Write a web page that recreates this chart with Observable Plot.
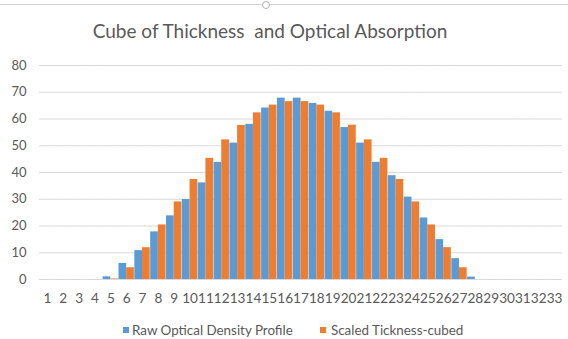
<!DOCTYPE html>
<html><head><meta charset="utf-8">
<script src="https://cdn.jsdelivr.net/npm/d3@7"></script>
<script src="https://cdn.jsdelivr.net/npm/@observablehq/plot@0.6"></script>
<style>
body{margin:0;background:#fff;font-family:Lato,sans-serif;color:#595959}
#wrap{position:relative;width:568px;height:339px;overflow:hidden;background:#fff}
#topline{position:absolute;left:0;top:4px;width:568px;height:0;border-top:1px solid #d4d4d4}
#handle{position:absolute;left:262px;top:1px;width:6px;height:6px;border:1px solid #b0b0b0;border-radius:50%;background:#fff}
#title{position:absolute;left:0;width:540px;top:20px;text-align:center;font-size:19px;line-height:1.2;white-space:pre}
#chart{position:absolute;left:0;top:50px}
.lg{position:absolute;top:321.5px;font-size:13.4px;line-height:1.2;white-space:nowrap}
.sw{position:absolute;top:327px;width:6px;height:6px}
</style>
</head><body>
<div id="wrap">
  <div id="topline"></div>
  <div id="handle"></div>
  <div id="title"></div>
  <div id="chart"></div>
  <div id="legend"></div>
</div>
<script>
const title = "Cube of Thickness  and Optical Absorption";
const categories = [1,2,3,4,5,6,7,8,9,10,11,12,13,14,15,16,17,18,19,20,21,22,23,24,25,26,27,28,29,30,31,32,33];
const seriesNames = ["Raw Optical Density Profile", "Scaled Tickness-cubed"];
const rawOpticalDensity = [0,0,0,0,1,6,10.8,17.8,23.8,29.9,36.1,43.8,51.0,58.0,64.1,67.8,67.8,65.8,62.9,56.8,51.0,43.8,38.8,30.8,23.0,14.9,7.8,0.9,0,0,0,0,0];
const scaledThicknessCubed = [0,0,0,0,0.2,4.4,11.9,20.4,29.0,37.4,45.3,52.2,57.6,62.3,65.2,66.5,66.5,65.2,62.3,57.7,52.2,45.3,37.4,29.0,20.4,11.9,4.4,0,0,0,0,0,0];
const yTicks = [0,10,20,30,40,50,60,70,80];
const colors = ["#5B9BD5", "#ED7D31"];

document.getElementById("title").textContent = title;

const data = [];
categories.forEach((c, i) => {
  data.push({cat: c, series: seriesNames[0], value: rawOpticalDensity[i]});
  data.push({cat: c, series: seriesNames[1], value: scaledThicknessCubed[i]});
});

const chart = Plot.plot({
  width: 568,
  height: 262,
  marginTop: 15,
  marginBottom: 33,
  marginLeft: 39,
  marginRight: 6,
  style: {fontFamily: "Lato, sans-serif", fontSize: "13.6px", color: "#595959", background: "transparent"},
  fx: {domain: categories, padding: 0, round: false, axis: "bottom", tickSize: 0, tickPadding: 14, label: null},
  x: {domain: seriesNames, axis: null, round: false, paddingInner: 0, paddingOuter: 0.03},
  y: {domain: [0, 80], ticks: yTicks, tickSize: 0, tickPadding: 13, label: null},
  color: {domain: seriesNames, range: colors},
  marks: [
    Plot.ruleY(yTicks, {stroke: "#d9d9d9", strokeOpacity: 1}),
    Plot.barY(data, {fx: "cat", x: "series", y: "value", fill: "series"})
  ]
});
chart.querySelectorAll('g[aria-label="y-axis tick label"]').forEach(g => g.setAttribute("font-size", "13px"));
document.getElementById("chart").appendChild(chart);

const legend = document.getElementById("legend");
const lgX = [[123, 132], [320, 331]];
seriesNames.forEach((s, i) => {
  const sw = document.createElement("div");
  sw.className = "sw";
  sw.style.left = lgX[i][0] + "px";
  sw.style.background = colors[i];
  legend.appendChild(sw);
  const t = document.createElement("div");
  t.className = "lg";
  t.style.left = lgX[i][1] + "px";
  t.textContent = s;
  legend.appendChild(t);
});
</script>
</body></html>
